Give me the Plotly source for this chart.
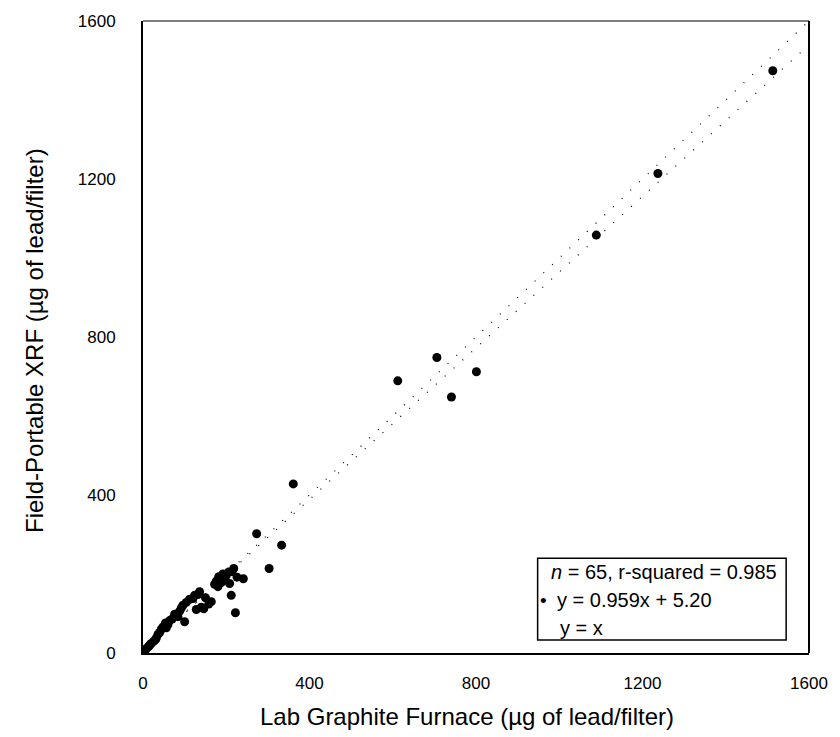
import plotly.graph_objects as go

# Data
lab_gf = [1513, 1237, 1089, 801, 741, 706, 612, 361, 333, 303, 273, 241, 222, 218, 212,
          208, 206, 200, 214, 196, 182, 176, 172, 188, 164, 158, 146, 140, 136, 132,
          124, 120, 112, 104, 96, 92, 88, 100, 76, 70, 64, 60, 54, 48, 44,
          40, 36, 32, 26, 20, 14, 9, 4, 1, 150, 84, 30, 16, 6, 192,
          226, 128, 56, 180, 2]
field_xrf = [1474, 1214, 1058, 712, 648, 748, 689, 428, 273, 214, 302, 188, 102, 214, 146,
             176, 205, 196, 206, 186, 193, 182, 174, 178, 130, 124, 112, 116, 155, 148,
             146, 138, 136, 128, 121, 114, 106, 79, 98, 86, 82, 72, 76, 66, 60,
             52, 47, 38, 30, 24, 17, 12, 5, 1, 140, 92, 34, 20, 8, 200,
             192, 110, 64, 168, 3]

fit_slope = 0.959
fit_intercept = 5.20
line_x = [0, 1600]
fit_y = [fit_slope * v + fit_intercept for v in line_x]
ident_y = list(line_x)

axis_ticks = [0, 400, 800, 1200, 1600]
x_title = "Lab Graphite Furnace (µg of lead/filter)"
y_title = "Field-Portable XRF (µg of lead/filter)"
legend_lines = ["<i>n</i> = 65, r-squared = 0.985", "y = 0.959x + 5.20", "y = x"]

FONT = "Liberation Sans, Arial, sans-serif"

# plot-area pixel frame (for placing paper-anchored decorations)
L, R, T, B = 143, 813, 19, 653
W, H = R - L, B - T


def px(xp):
    return (xp - L) / W


def py(yp):
    return (B - yp) / H


fig = go.Figure()
fig.add_trace(go.Scatter(x=line_x, y=ident_y, mode="lines",
                         line=dict(color="#000", width=1.2, dash="1px,11px"),
                         hoverinfo="skip", showlegend=False))
fig.add_trace(go.Scatter(x=line_x, y=fit_y, mode="lines",
                         line=dict(color="#000", width=1.2, dash="1px,11px"),
                         hoverinfo="skip", showlegend=False))
fig.add_trace(go.Scatter(x=lab_gf, y=field_xrf, mode="markers",
                         marker=dict(color="#000", size=9, line=dict(width=0)),
                         showlegend=False))

fig.update_layout(
    width=840, height=737,
    margin=dict(l=L, r=840 - R, t=T, b=737 - B),
    paper_bgcolor="white", plot_bgcolor="white",
    font=dict(family=FONT, color="#000", size=17),
    xaxis=dict(range=[0, 1600], tickvals=axis_ticks, showgrid=False, zeroline=False,
               showline=True, linecolor="#000", linewidth=2, ticks="",
               ticklabelstandoff=14, tickfont=dict(size=17)),
    yaxis=dict(range=[0, 1600], tickvals=axis_ticks, showgrid=False, zeroline=False,
               showline=True, linecolor="#000", linewidth=2, ticks="",
               ticklabelstandoff=22, tickfont=dict(size=17)),
)

# top and right borders
fig.add_shape(type="line", xref="paper", yref="paper", x0=0, x1=1, y0=1, y1=1,
              line=dict(color="#000", width=1.2))
fig.add_shape(type="line", xref="paper", yref="paper", x0=1, x1=1, y0=0, y1=1,
              line=dict(color="#000", width=2))

# axis titles
fig.add_annotation(text=x_title, xref="paper", yref="paper", x=px(469), y=0,
                   xanchor="center", yanchor="middle", yshift=-(716 - B),
                   showarrow=False, font=dict(size=24))
fig.add_annotation(text=y_title, xref="paper", yref="paper", x=0, y=py(340),
                   xanchor="center", yanchor="middle", xshift=-(L - 35), textangle=-90,
                   showarrow=False, font=dict(size=24))

# legend box
fig.add_shape(type="rect", xref="paper", yref="paper",
              x0=px(540), x1=px(790), y0=py(640), y1=py(558),
              line=dict(color="#000", width=1.5), fillcolor="white", layer="above")
legend_y = [572, 600, 628]
legend_x = [551, 557, 560]
for txt, yy, xx in zip(legend_lines, legend_y, legend_x):
    fig.add_annotation(text=txt, xref="paper", yref="paper",
                       x=px(xx), y=py(yy),
                       xanchor="left", yanchor="middle", showarrow=False,
                       font=dict(size=20))
fig.add_annotation(text="•", xref="paper", yref="paper",
                   x=px(546), y=py(600),
                   xanchor="center", yanchor="middle", showarrow=False,
                   font=dict(size=19))

fig.write_html("out.html", config={"displayModeBar": False},
               post_script="document.body.style.margin='0';")
